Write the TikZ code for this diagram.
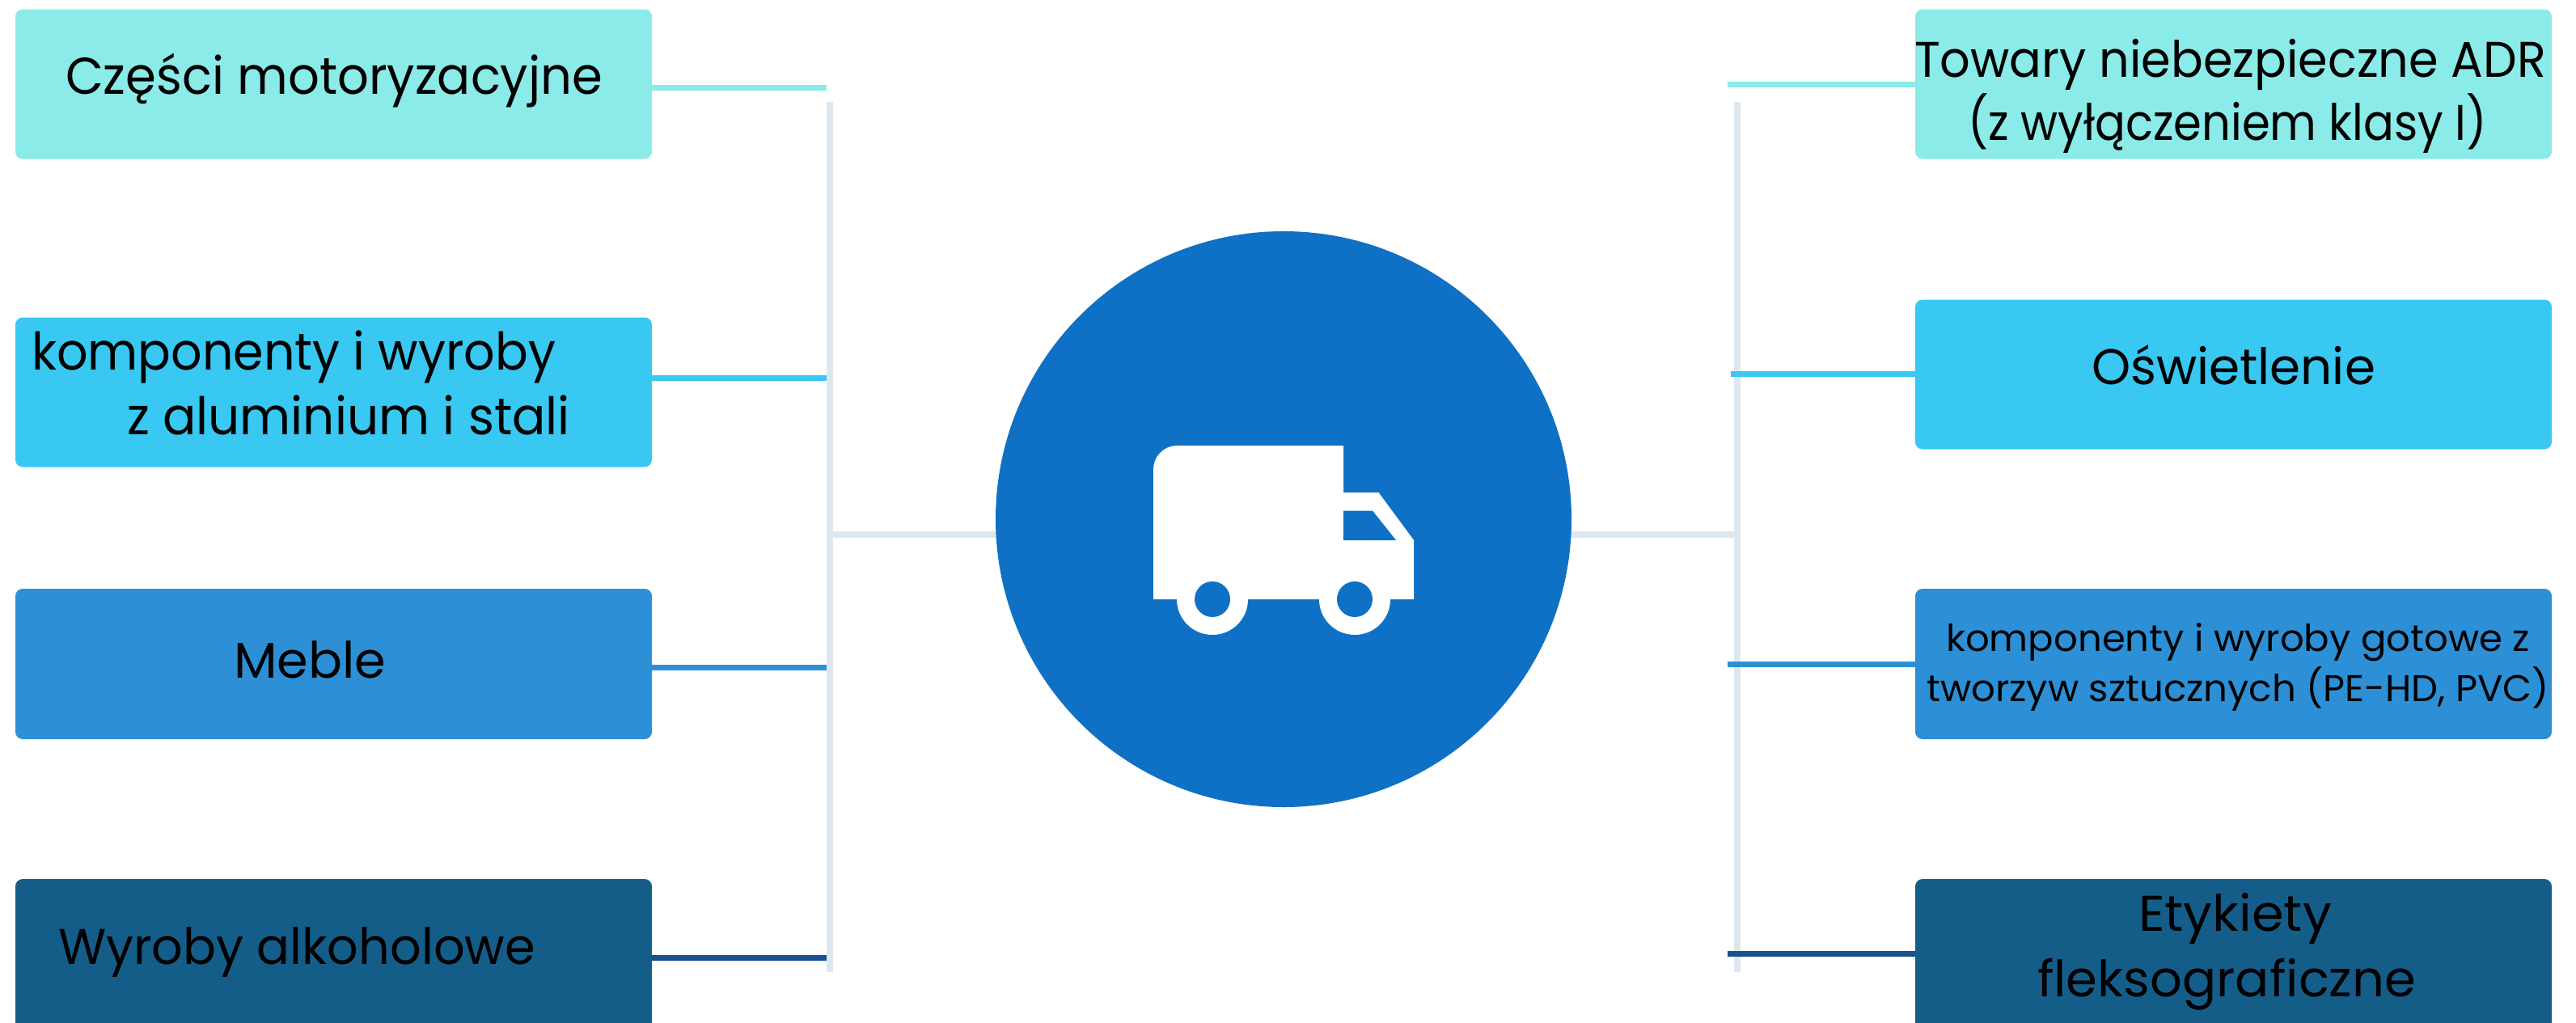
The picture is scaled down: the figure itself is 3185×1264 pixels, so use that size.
\documentclass[tikz,border=0pt]{standalone}
\usepackage{fontspec}
\usepackage{graphicx}
\usetikzlibrary{backgrounds}
\setmainfont{Poppins}
\definecolor{cTeal}{HTML}{8AEBE8}
\definecolor{cSky}{HTML}{38C8F2}
\definecolor{cMid}{HTML}{2D90D6}
\definecolor{cDark}{HTML}{155D89}
\definecolor{cLineDark}{HTML}{17528C}
\definecolor{cHub}{HTML}{0E71C5}
\definecolor{cTrunk}{HTML}{DDE7F0}
\newcommand{\fitw}[3]{\fontsize{#2}{#2}\selectfont\resizebox{#1pt}{\height}{#3}}
\tikzset{
  x=1pt,y=-1pt,
  catbox/.style={rectangle,rounded corners=9pt,minimum width=787pt,minimum height=#1,inner sep=0pt,outer sep=0pt},
  catlabel/.style={anchor=base west,inner sep=0pt,outer sep=0pt,text=black},
  trunkline/.style={draw=cTrunk,line width=8pt},
  branchline/.style={line width=7pt},
}
\begin{document}
\begin{tikzpicture}
\useasboundingbox (0,0) rectangle (3185,1264);
\clip (0,0) rectangle (3185,1264);
% boxes
\node[catbox=185pt,fill=cTeal] (L1) at (412.5,104) {};
\node[catbox=185pt,fill=cSky] (L2) at (412.5,485) {};
\node[catbox=186pt,fill=cMid] (L3) at (412.5,821) {};
\node[catbox=190pt,fill=cDark] (L4) at (412.5,1182) {};
\node[catbox=185pt,fill=cTeal] (R1) at (2761.5,104) {};
\node[catbox=185pt,fill=cSky] (R2) at (2761.5,463) {};
\node[catbox=186pt,fill=cMid] (R3) at (2761.5,821) {};
\node[catbox=190pt,fill=cDark] (R4) at (2761.5,1182) {};
% junctions
\coordinate (TLtop) at (1026,126);
\coordinate (TLbot) at (1026,1202);
\coordinate (TRtop) at (2148,126);
\coordinate (TRbot) at (2148,1202);
\coordinate (JL) at (1026,661);
\coordinate (JR) at (2148,661);
\coordinate (cL1) at (1022,108.5);
\coordinate (cL2) at (1022,467);
\coordinate (cL3) at (1022,825.5);
\coordinate (cL4) at (1022,1184);
\coordinate (cR1) at (2136,104);
\coordinate (cR2) at (2140,462.5);
\coordinate (cR3) at (2136,821);
\coordinate (cR4) at (2136,1179);
% hub
\node[circle,fill=cHub,minimum size=712pt,inner sep=0pt,outer sep=0pt] (hub) at (1587,642) {};
\begin{pgfonlayer}{background}
\draw[trunkline] (TLtop) -- (TLbot);
\draw[trunkline] (TRtop) -- (TRbot);
\draw[trunkline] (JL) -- (hub.center |- JL);
\draw[trunkline] (JR) -- (hub.center |- JR);
\end{pgfonlayer}
% branches
\draw[branchline,draw=cTeal] (L1.east |- cL1) -- (cL1);
\draw[branchline,draw=cSky] (L2.east |- cL2) -- (cL2);
\draw[branchline,draw=cMid] (L3.east |- cL3) -- (cL3);
\draw[branchline,draw=cLineDark] (L4.east |- cL4) -- (cL4);
\draw[branchline,draw=cTeal] (R1.west |- cR1) -- (cR1);
\draw[branchline,draw=cSky] (R2.west |- cR2) -- (cR2);
\draw[branchline,draw=cMid] (R3.west |- cR3) -- (cR3);
\draw[branchline,draw=cLineDark] (R4.west |- cR4) -- (cR4);
% truck
\fill[white] (1426,741) -- (1426,581) .. controls (1426,564) and (1439,551) .. (1456,551) -- (1661,551) -- (1661,609) -- (1704.5,609) -- (1748,668) -- (1748,741) -- cycle;
\fill[white] (1499,741) circle[radius=44pt];
\fill[white] (1675,741) circle[radius=44pt];
\fill[cHub] (1499,741) circle[radius=22pt];
\fill[cHub] (1675,741) circle[radius=22pt];
\fill[cHub] (1661,631.5) -- (1697,631.5) -- (1726,668) -- (1661,668) -- cycle;
% labels
\node[catlabel] (t1) at (81,116.5) {\fitw{664}{64}{Części motoryzacyjne}};
\node[catlabel] (t2a) at (39,457) {\fitw{648}{64}{komponenty i wyroby}};
\node[catlabel] (t2b) at (157,537) {\fitw{548}{64}{z aluminium i stali}};
\node[catlabel] (t3) at (289,838) {\fitw{188}{62}{Meble}};
\node[catlabel] (t4) at (72,1192) {\fitw{590}{62}{Wyroby alkoholowe}};
\node[catlabel] (r1a) at (2367,95) {\fitw{781}{62}{Towary niebezpieczne ADR}};
\node[catlabel] (r1b) at (2433,173) {\fitw{642}{62}{(z wyłączeniem klasy I)}};
\node[catlabel] (r2) at (2586,475) {\fitw{351}{62}{Oświetlenie}};
\node[catlabel] (r3a) at (2406,805) {\fitw{722}{46}{komponenty i wyroby gotowe z}};
\node[catlabel] (r3b) at (2382,867) {\fitw{770}{46}{tworzyw sztucznych (PE-HD, PVC)}};
\node[catlabel] (r4a) at (2644,1151) {\fitw{239}{62}{Etykiety}};
\node[catlabel] (r4b) at (2519,1232) {\fitw{468}{62}{fleksograficzne}};
\end{tikzpicture}
\end{document}
